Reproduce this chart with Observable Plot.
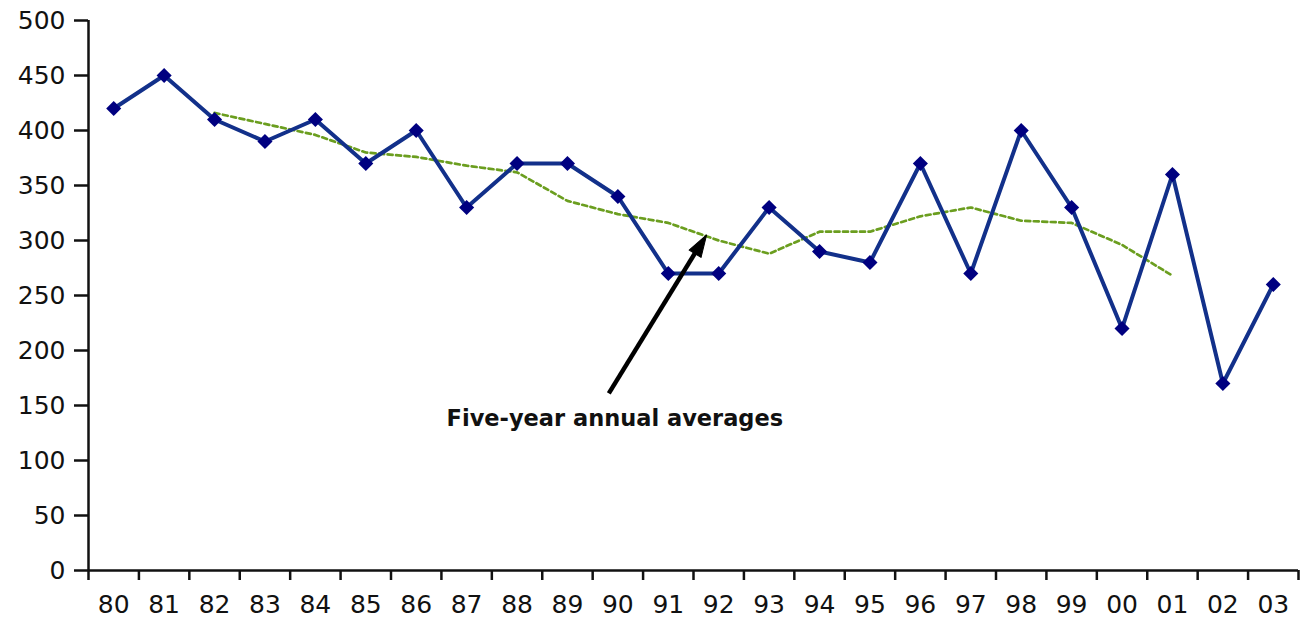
<!DOCTYPE html>
<html><head><meta charset="utf-8">
<script src="https://cdn.jsdelivr.net/npm/d3@7"></script>
<script src="https://cdn.jsdelivr.net/npm/@observablehq/plot@0.6"></script>
<style>html,body{margin:0;padding:0;background:#fff} svg{display:block}</style>
</head><body><div id="chart"></div>
<script>
// Year labels (categories)
const years = ["80","81","82","83","84","85","86","87","88","89","90","91","92","93","94","95","96","97","98","99","00","01","02","03"];
// Annual values
const values = [420,450,410,390,410,370,400,330,370,370,340,270,270,330,290,280,370,270,400,330,220,360,170,260];
// Five-year annual averages
const avgYears = ["82","83","84","85","86","87","88","89","90","91","92","93","94","95","96","97","98","99","00","01"];
const avgValues = [416,406,396,380,376,368,362,336,324,316,300,288,308,308,322,330,318,316,296,268];
// Y tick labels
const yTicks = [0,50,100,150,200,250,300,350,400,450,500];
// Annotation
const annotationText = "Five-year annual averages";
const annotationPos = [{x: 9.94, y: 138}];
const arrowShaft = [{x1: 9.82, y1: 161, x2: 11.59, y2: 293}];
const arrowTip = [{x: 11.76, y: 305}];

const series = values.map((v, i) => ({i, v}));
const avgSeries = avgValues.map((v, k) => ({i: years.indexOf(avgYears[k]), v}));

const arrowHead = {
  draw(context, l, r) {
    context.moveTo(0, -l);
    context.lineTo(-r, 0);
    context.lineTo(r, 0);
    context.closePath();
  }
};

const chart = Plot.plot({
  width: 1302,
  height: 620,
  marginLeft: 88,
  marginRight: 4,
  marginTop: 20,
  marginBottom: 50,
  style: {fontFamily: "DejaVu Sans", background: "#fff", overflow: "visible"},
  x: {domain: [-0.5, 23.5]},
  y: {domain: [0, 500]},
  marks: [
    Plot.axisY({ticks: yTicks, tickSize: 14, tickPadding: 9, fontSize: 25, tickFormat: d => String(d), color: "#111", strokeWidth: 2.5, label: null}),
    Plot.ruleX([-0.5], {stroke: "#111", strokeWidth: 2.5}),
    Plot.axisX({ticks: d3.range(-0.5, 24, 1), tickSize: 10, tickFormat: () => "", color: "#111", strokeWidth: 2.5, label: null}),
    Plot.axisX({ticks: d3.range(years.length), tickSize: 0, tickPadding: 25, tickFormat: i => years[i], fontSize: 25, color: "#111", label: null}),
    Plot.ruleY([0], {stroke: "#111", strokeWidth: 2.5}),
    Plot.line(avgSeries, {x: "i", y: "v", stroke: "#6b9e1f", strokeWidth: 2.7, strokeDasharray: "5,3.5"}),
    Plot.line(series, {x: "i", y: "v", stroke: "#12308a", strokeWidth: 4}),
    Plot.dot(series, {x: "i", y: "v", symbol: "diamond2", r: 6.8, fill: "#000080", stroke: "none"}),
    Plot.link(arrowShaft, {x1: "x1", y1: "y1", x2: "x2", y2: "y2", stroke: "#000", strokeWidth: 4.5}),
    Plot.vector(arrowTip, {x: "x", y: "y", length: 22, rotate: 31.6, anchor: "end", shape: arrowHead, r: 7, fill: "#000", stroke: "#000", strokeWidth: 1}),
    Plot.text(annotationPos, {x: "x", y: "y", text: () => annotationText, fontSize: 22.5, fontWeight: "bold", fontFamily: "DejaVu Sans", fill: "#111", textAnchor: "middle", lineAnchor: "middle"})
  ]
});
document.getElementById("chart").appendChild(chart);
</script>
</body></html>
